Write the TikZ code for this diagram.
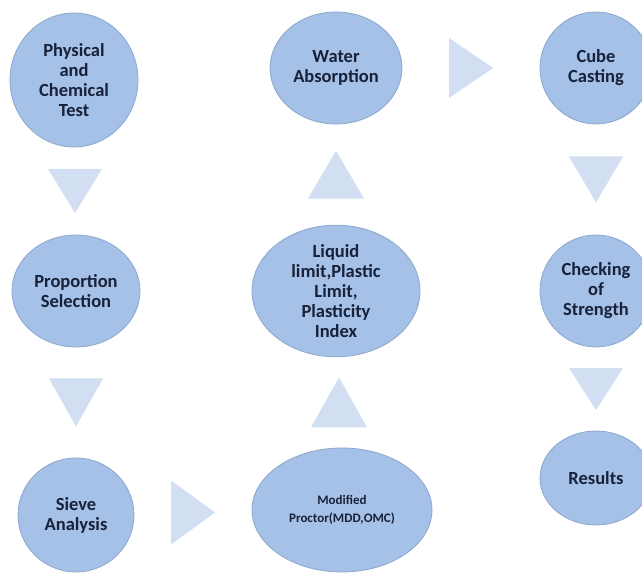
\documentclass[tikz,border=0pt]{standalone}
\usepackage{fontspec}
\setmainfont{Carlito}
\usetikzlibrary{calc}
\usetikzlibrary{shapes.geometric}
\definecolor{bubble}{HTML}{A5C1E7}
\definecolor{bubbleline}{HTML}{8DA7CD}
\definecolor{chevron}{HTML}{D2DEF1}
\definecolor{inktext}{HTML}{172139}

\begin{document}
\begin{tikzpicture}[x=1pt,y=1pt,
        bubble/.style={ellipse,fill=bubble,draw=bubbleline,line width=0.8pt,inner sep=0pt,
            align=center,text=inktext,font=\fontsize{18.5}{20}\selectfont\bfseries},
        chev/.style={fill=chevron}]
    \clip (0,0) rectangle (642,577);
    \node[bubble,minimum width=128pt,minimum height=134pt] (phys) at (74,497) {Physical\\and\\Chemical\\Test};
    \node[bubble,minimum width=128pt,minimum height=112pt] (prop) at (76,286) {Proportion\\Selection};
    \node[bubble,minimum width=116pt,minimum height=114pt] (sieve) at (76,62) {Sieve\\Analysis};
    \node[bubble,minimum width=180pt,minimum height=124pt,font=\fontsize{13}{18}\selectfont\bfseries] (mod) at (342,67) {Modified\\Proctor(MDD,OMC)};
    \node[bubble,minimum width=168pt,minimum height=108pt] (liq) at (336,286) {Liquid\\limit,Plastic\\Limit,\\Plasticity\\Index};
    \node[bubble,minimum width=132pt,minimum height=112pt] (water) at (336,509) {Water\\Absorption};
    \node[bubble,minimum width=112pt,minimum height=112pt] (cube) at (596,509) {Cube\\Casting};
    \node[bubble,minimum width=112pt,minimum height=112pt] (check) at (596,286) {Checking\\of\\Strength};
    \node[bubble,minimum width=112pt,minimum height=94pt] (res) at (596,99) {Results};

    \coordinate (d1) at ($(phys.south)!0.5!(prop.north)$);
    \coordinate (d2) at ($(prop.south)!0.5!(sieve.north)$);
    \coordinate (r1) at ($(sieve.east)!0.5!(mod.west)$);
    \coordinate (u1) at ($(mod.north)!0.5!(liq.south)$);
    \coordinate (u2) at ($(liq.north)!0.5!(water.south)$);
    \coordinate (r2) at ($(water.east)!0.5!(cube.west)$);
    \coordinate (d3) at ($(cube.south)!0.5!(check.north)$);
    \coordinate (d4) at ($(check.south)!0.5!(res.north)$);

    \fill[chev] ($(d1)+(-27,22)$) -- ($(d1)+(27,22)$) -- ($(d1)+(0,-22)$) -- cycle;
    \fill[chev] ($(d2)+(-27,24)$) -- ($(d2)+(27,24)$) -- ($(d2)+(0,-24)$) -- cycle;
    \fill[chev] ($(r1)+(-22,32)$) -- ($(r1)+(-22,-32)$) -- ($(r1)+(22,0)$) -- cycle;
    \fill[chev] ($(u1)+(-28,-25)$) -- ($(u1)+(28,-25)$) -- ($(u1)+(0,25)$) -- cycle;
    \fill[chev] ($(u2)+(-28,-24)$) -- ($(u2)+(28,-24)$) -- ($(u2)+(0,24)$) -- cycle;
    \fill[chev] ($(r2)+(-22,30)$) -- ($(r2)+(-22,-30)$) -- ($(r2)+(22,0)$) -- cycle;
    \fill[chev] ($(d3)+(-27,23)$) -- ($(d3)+(27,23)$) -- ($(d3)+(0,-23)$) -- cycle;
    \fill[chev] ($(d4)+(-27,21)$) -- ($(d4)+(27,21)$) -- ($(d4)+(0,-21)$) -- cycle;
\end{tikzpicture}
\end{document}
